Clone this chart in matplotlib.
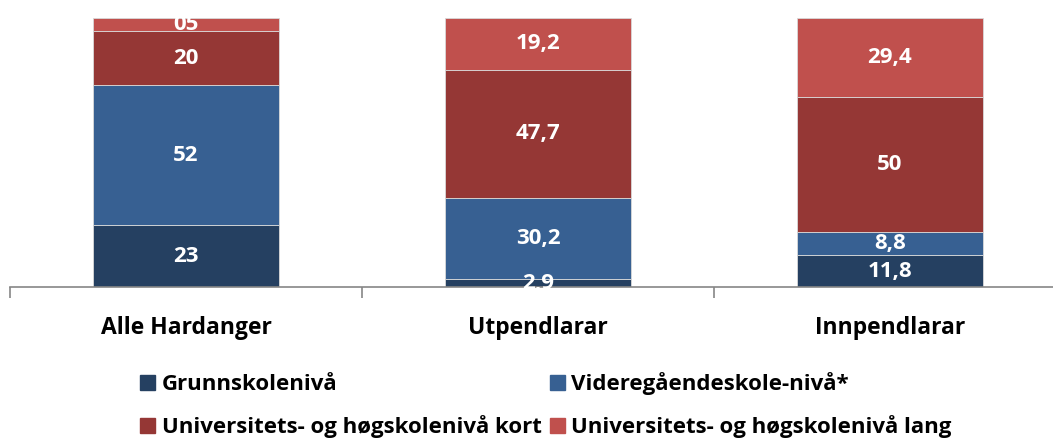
import matplotlib.pyplot as plt
from matplotlib.patches import Patch
import numpy as np

plt.rcParams['font.family'] = ['Open Sans', 'DejaVu Sans']

# Data (percent)
categories = ["Alle Hardanger", "Utpendlarar", "Innpendlarar"]
series_names = ["Grunnskolenivå", "Videregåendeskole-nivå*",
                "Universitets- og høgskolenivå kort", "Universitets- og høgskolenivå lang"]
grunnskole = [23, 2.9, 11.8]
vgs = [52, 30.2, 8.8]
uni_kort = [20, 47.7, 50]
uni_lang = [5, 19.2, 29.4]
value_labels = [
    ["23", "2,9", "11,8"],
    ["52", "30,2", "8,8"],
    ["20", "47,7", "50"],
    ["05", "19,2", "29,4"],
]

colors = ["#254061", "#376092", "#953735", "#C0504D"]

fig = plt.figure(figsize=(10.53, 4.38), dpi=100)
ax = fig.add_axes([10 / 1053, 151 / 438, 1056 / 1053, 269 / 438])

x = np.arange(len(categories))
bottom = np.zeros(len(categories))
for vals, col, labels in zip([grunnskole, vgs, uni_kort, uni_lang], colors, value_labels):
    ax.bar(x, vals, bottom=bottom, width=0.527, color=col, edgecolor="#d9d9d9", linewidth=0.6)
    for xi, v, b, lab in zip(x, vals, bottom, labels):
        ax.text(xi, b + v / 2, lab, ha="center", va="center", color="white",
                fontsize=16, fontweight="bold")
    bottom += np.array(vals)

ax.set_xlim(-0.5, 2.5)
ax.set_ylim(0, 100)
for s in ["top", "right", "left"]:
    ax.spines[s].set_visible(False)
ax.spines["bottom"].set_color("#868686")
ax.spines["bottom"].set_linewidth(1.2)
ax.set_yticks([])

ax.set_xticks([-0.5, 0.5, 1.5, 2.5])
ax.set_xticklabels([])
ax.tick_params(axis="x", which="major", length=8, width=1.2, color="#868686")
ax.set_xticks(x, minor=True)
ax.set_xticklabels(categories, minor=True, fontsize=16.5, fontweight="bold")
ax.tick_params(axis="x", which="minor", length=0, pad=21)

handles = [Patch(color=colors[i], label=series_names[i]) for i in [0, 2, 1, 3]]
fig.legend(handles=handles, ncol=2, loc="upper left", bbox_to_anchor=(120 / 1053, 1 - 352 / 438),
           frameon=False, prop={"size": 16, "weight": "bold"},
           handlelength=0.68, handleheight=0.68, handletextpad=0.3,
           columnspacing=0.36, labelspacing=0.9)

fig.savefig("out.png", dpi=100)
